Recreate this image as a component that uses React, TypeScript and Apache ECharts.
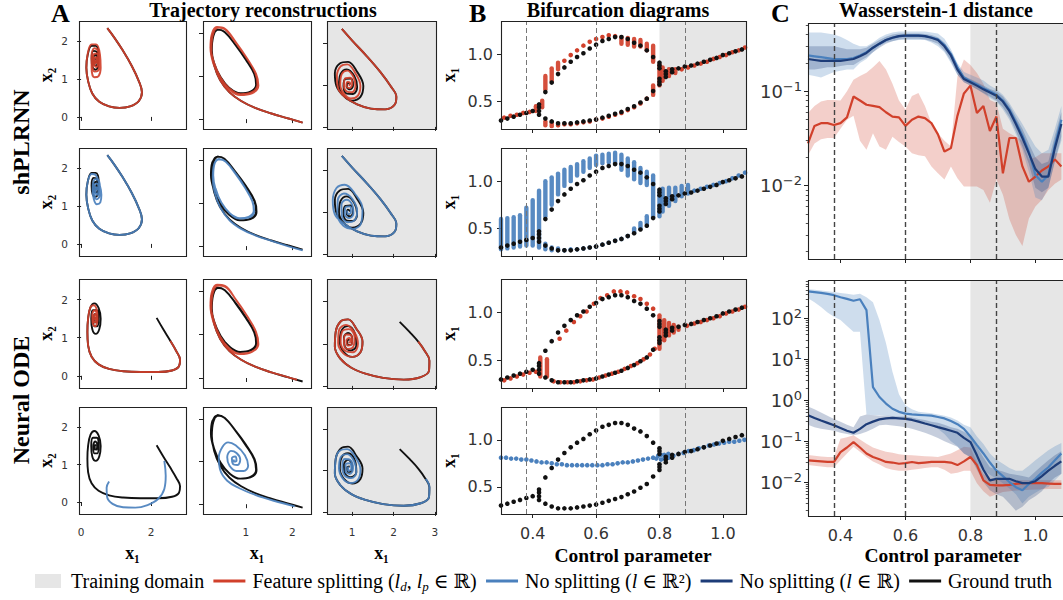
import { useEffect, useRef } from "react";
import * as echarts from "echarts";

// ================= DATA =================
// ---- Panel A: trajectories (x1, x2) ----
// Column 1 (rows 1-2 ground truth)
const gtC1Top = [[0.75,2.35],[0.95,2.1],[1.2,1.75],[1.45,1.35],[1.65,0.95],[1.74,0.65],[1.65,0.42],[1.4,0.28],[1.1,0.24],[0.8,0.28],[0.52,0.4],[0.32,0.62],[0.2,0.95],[0.15,1.3],[0.19,1.65],[0.3,1.88],[0.42,1.88],[0.5,1.7],[0.5,1.4],[0.42,1.25],[0.33,1.32],[0.3,1.55],[0.36,1.75],[0.45,1.72],[0.48,1.52],[0.43,1.36],[0.36,1.4],[0.35,1.58],[0.41,1.64],[0.45,1.52],[0.41,1.43],[0.38,1.5],[0.41,1.55]];
const redC1R1 = [[0.75,2.35],[0.95,2.1],[1.2,1.75],[1.45,1.35],[1.65,0.95],[1.74,0.65],[1.65,0.42],[1.4,0.28],[1.1,0.24],[0.8,0.28],[0.52,0.4],[0.32,0.62],[0.2,0.95],[0.15,1.3],[0.19,1.68],[0.3,1.92],[0.43,1.92],[0.54,1.65],[0.56,1.3],[0.5,1.08],[0.38,1.05],[0.3,1.3],[0.3,1.62],[0.38,1.82],[0.48,1.76],[0.53,1.48],[0.48,1.22],[0.38,1.2],[0.33,1.42],[0.36,1.66],[0.45,1.68],[0.49,1.48],[0.44,1.32],[0.38,1.38],[0.38,1.56],[0.44,1.58],[0.45,1.46],[0.41,1.42],[0.4,1.5]];
const blueC1R2 = [[0.75,2.35],[0.95,2.1],[1.2,1.75],[1.45,1.35],[1.65,0.95],[1.74,0.65],[1.65,0.42],[1.4,0.28],[1.1,0.24],[0.8,0.28],[0.52,0.4],[0.32,0.62],[0.2,0.95],[0.15,1.3],[0.19,1.65],[0.3,1.85],[0.42,1.82],[0.52,1.6],[0.58,1.3],[0.55,1.1],[0.45,1.05],[0.36,1.2],[0.33,1.45],[0.36,1.68],[0.46,1.72],[0.54,1.5],[0.52,1.25],[0.44,1.18],[0.38,1.32],[0.38,1.55],[0.45,1.6],[0.5,1.45],[0.46,1.3],[0.41,1.38],[0.42,1.5],[0.46,1.48],[0.45,1.42]];
// Column 1 (rows 3-4 ground truth)
const gtC1Bot = [[2.16,1.52],[2.35,1.22],[2.55,0.92],[2.72,0.65],[2.83,0.42],[2.8,0.25],[2.6,0.14],[2.2,0.1],[1.7,0.1],[1.2,0.12],[0.8,0.18],[0.5,0.3],[0.3,0.5],[0.2,0.8],[0.18,1.15],[0.2,1.5],[0.27,1.8],[0.38,1.9],[0.5,1.78],[0.56,1.5],[0.52,1.22],[0.42,1.1],[0.32,1.22],[0.29,1.5],[0.34,1.72],[0.45,1.72],[0.5,1.5],[0.46,1.3],[0.38,1.3],[0.35,1.5],[0.4,1.62],[0.46,1.55],[0.44,1.4],[0.39,1.42],[0.39,1.52],[0.43,1.52]];
const redC1R3 = [[2.55,0.92],[2.72,0.65],[2.83,0.42],[2.8,0.25],[2.6,0.14],[2.2,0.1],[1.7,0.1],[1.2,0.12],[0.8,0.18],[0.5,0.3],[0.3,0.5],[0.2,0.8],[0.18,1.15],[0.2,1.5],[0.26,1.78],[0.36,1.85],[0.45,1.72],[0.47,1.48],[0.4,1.3],[0.33,1.38],[0.32,1.6],[0.38,1.72],[0.45,1.62],[0.44,1.45],[0.38,1.4],[0.36,1.55],[0.41,1.62],[0.43,1.52],[0.39,1.48],[0.4,1.55]];
const blueC1R4 = [[0.8,0.55],[0.73,0.38],[0.74,0.15],[0.9,-0.05],[1.2,-0.14],[1.55,-0.15],[1.9,-0.08],[2.2,0.08],[2.38,0.35],[2.42,0.7],[2.38,1.1]];
// Column 2
const gtC2 = [[2.22,-0.08],[1.9,0.02],[1.55,0.13],[1.2,0.26],[0.9,0.42],[0.65,0.62],[0.45,0.9],[0.32,1.25],[0.27,1.6],[0.3,1.92],[0.4,2.08],[0.55,2.02],[0.78,1.72],[1.0,1.38],[1.18,1.05],[1.22,0.8],[1.1,0.64],[0.88,0.6],[0.65,0.72],[0.46,0.97],[0.32,1.3],[0.26,1.65],[0.29,1.95],[0.39,2.08],[0.54,2.03],[0.77,1.74],[1.0,1.4],[1.19,1.05],[1.23,0.8],[1.1,0.63],[0.87,0.6],[0.64,0.73],[0.45,0.98],[0.31,1.32],[0.25,1.66],[0.28,1.95],[0.38,2.07]];
const redC2R1 = [[2.22,-0.08],[1.9,0.02],[1.55,0.13],[1.2,0.26],[0.9,0.42],[0.65,0.62],[0.45,0.9],[0.32,1.25],[0.26,1.6],[0.29,1.95],[0.4,2.13],[0.56,2.08],[0.8,1.75],[1.03,1.4],[1.22,1.05],[1.27,0.78],[1.13,0.6],[0.88,0.56],[0.63,0.7],[0.44,0.96],[0.3,1.3],[0.24,1.66],[0.27,1.98],[0.38,2.14],[0.55,2.1],[0.79,1.78],[1.02,1.42],[1.2,1.08],[1.25,0.8],[1.12,0.62],[0.88,0.58],[0.64,0.72],[0.45,0.98],[0.31,1.33],[0.25,1.68],[0.28,2.0],[0.38,2.12]];
const blueC2R2 = [[2.22,-0.1],[1.9,0.0],[1.55,0.12],[1.2,0.25],[0.9,0.4],[0.65,0.6],[0.45,0.9],[0.33,1.25],[0.29,1.6],[0.32,1.9],[0.42,2.02],[0.56,1.97],[0.78,1.68],[0.98,1.36],[1.14,1.04],[1.17,0.82],[1.06,0.68],[0.87,0.65],[0.66,0.76],[0.48,1.0],[0.35,1.32],[0.3,1.64],[0.33,1.92],[0.43,2.02],[0.57,1.96],[0.8,1.66],[1.0,1.33],[1.15,1.02],[1.18,0.8],[1.06,0.66],[0.86,0.64],[0.65,0.77],[0.47,1.02],[0.35,1.34]];
const redC2R3 = [[2.1,-0.04],[1.9,0.02],[1.55,0.13],[1.2,0.26],[0.9,0.42],[0.65,0.62],[0.45,0.9],[0.32,1.25],[0.26,1.6],[0.29,1.95],[0.4,2.13],[0.56,2.1],[0.8,1.78],[1.03,1.42],[1.22,1.06],[1.27,0.78],[1.13,0.6],[0.88,0.55],[0.62,0.68],[0.43,0.95],[0.3,1.3],[0.24,1.66],[0.27,1.98],[0.38,2.15],[0.55,2.12],[0.79,1.8],[1.02,1.44],[1.21,1.08],[1.26,0.8],[1.12,0.6],[0.87,0.56],[0.63,0.7],[0.44,0.97],[0.31,1.33],[0.25,1.68],[0.28,2.0],[0.38,2.14]];
const blueC2R4 = [[2.05,-0.05],[1.6,0.08],[1.2,0.22],[0.85,0.38],[0.6,0.55],[0.45,0.8],[0.42,1.1],[0.5,1.35],[0.62,1.45],[0.78,1.38],[0.98,1.15],[1.05,0.9],[0.95,0.78],[0.8,0.78],[0.65,0.9],[0.6,1.1],[0.68,1.25],[0.8,1.2],[0.88,1.05],[0.82,0.92],[0.72,0.95],[0.7,1.08],[0.77,1.12],[0.8,1.02],[0.75,1.0],[0.74,1.05]];
// Column 3
const gtC3Top = [[0.75,2.35],[1.0,2.07],[1.35,1.7],[1.68,1.32],[1.93,0.98],[2.07,0.72],[2.02,0.52],[1.8,0.42],[1.45,0.44],[1.12,0.54],[0.82,0.72],[0.62,0.98],[0.58,1.28],[0.7,1.52],[0.9,1.56],[1.12,1.32],[1.27,0.98],[1.2,0.72],[1.0,0.63],[0.79,0.75],[0.68,1.0],[0.72,1.27],[0.87,1.38],[1.05,1.22],[1.12,0.96],[1.02,0.79],[0.87,0.8],[0.79,0.98],[0.84,1.15],[0.96,1.16],[1.02,1.0],[0.95,0.9],[0.87,0.96],[0.9,1.06],[0.96,1.02]];
const redC3R1 = [[0.75,2.35],[1.0,2.07],[1.35,1.7],[1.68,1.32],[1.93,0.98],[2.07,0.72],[2.02,0.52],[1.8,0.42],[1.45,0.44],[1.12,0.54],[0.82,0.72],[0.65,0.95],[0.63,1.22],[0.72,1.45],[0.88,1.5],[1.07,1.3],[1.2,0.98],[1.14,0.75],[0.97,0.68],[0.8,0.8],[0.71,1.02],[0.75,1.27],[0.88,1.35],[1.03,1.2],[1.08,0.98],[0.99,0.83],[0.87,0.85],[0.8,1.0],[0.84,1.17],[0.95,1.18],[1.0,1.03],[0.93,0.93],[0.86,0.98],[0.89,1.08],[0.95,1.05],[0.92,0.99]];
const blueC3R2 = [[0.75,2.35],[1.0,2.07],[1.35,1.7],[1.68,1.32],[1.93,0.98],[2.07,0.72],[2.02,0.52],[1.8,0.42],[1.45,0.44],[1.12,0.54],[0.82,0.72],[0.58,0.95],[0.53,1.28],[0.62,1.58],[0.82,1.66],[1.06,1.45],[1.25,1.08],[1.22,0.75],[1.02,0.6],[0.78,0.68],[0.64,0.95],[0.65,1.28],[0.8,1.45],[1.0,1.32],[1.12,1.02],[1.05,0.8],[0.88,0.76],[0.75,0.92],[0.74,1.18],[0.86,1.3],[1.0,1.18],[1.03,0.97],[0.93,0.86],[0.82,0.95],[0.84,1.12],[0.94,1.14],[0.97,1.0],[0.9,0.95],[0.88,1.04]];
const gtC3Bot = [[2.15,1.52],[2.4,1.27],[2.6,1.05],[2.75,0.84],[2.87,0.6],[2.86,0.36],[2.66,0.21],[2.25,0.15],[1.75,0.19],[1.32,0.29],[0.98,0.43],[0.72,0.64],[0.58,0.93],[0.6,1.28],[0.72,1.53],[0.9,1.58],[1.1,1.36],[1.25,1.05],[1.2,0.8],[1.0,0.69],[0.8,0.8],[0.7,1.05],[0.75,1.33],[0.9,1.42],[1.07,1.23],[1.1,0.96],[0.96,0.84],[0.82,0.94],[0.8,1.15],[0.9,1.26],[1.0,1.13],[0.98,0.98],[0.89,0.97],[0.88,1.08],[0.94,1.1]];
const redC3R3 = [[2.6,1.05],[2.75,0.84],[2.87,0.6],[2.86,0.36],[2.66,0.21],[2.25,0.15],[1.75,0.19],[1.32,0.29],[0.98,0.43],[0.72,0.64],[0.58,0.93],[0.6,1.28],[0.72,1.53],[0.9,1.58],[1.1,1.36],[1.25,1.05],[1.2,0.8],[1.0,0.69],[0.78,0.78],[0.66,1.02],[0.68,1.32],[0.85,1.45],[1.05,1.28],[1.14,1.0],[1.02,0.8],[0.82,0.84],[0.72,1.05],[0.76,1.3],[0.92,1.35],[1.06,1.15],[1.02,0.92],[0.87,0.88],[0.8,1.05],[0.85,1.22],[0.98,1.2],[1.0,1.02],[0.9,0.96],[0.86,1.08],[0.93,1.14],[0.96,1.05],[0.91,1.03]];
const blueC3R4 = [[2.78,0.8],[2.87,0.6],[2.86,0.36],[2.66,0.21],[2.25,0.15],[1.75,0.19],[1.32,0.29],[0.98,0.43],[0.72,0.64],[0.58,0.93],[0.6,1.28],[0.7,1.48],[0.88,1.52],[1.08,1.32],[1.2,1.02],[1.14,0.78],[0.96,0.7],[0.78,0.8],[0.68,1.05],[0.72,1.32],[0.88,1.4],[1.05,1.22],[1.1,0.96],[0.98,0.82],[0.82,0.88],[0.76,1.08],[0.82,1.28],[0.96,1.25],[1.02,1.05],[0.94,0.92],[0.84,0.98],[0.84,1.15],[0.94,1.18],[0.98,1.04],[0.9,0.99],[0.9,1.1]];

// ---- Panel B: bifurcation diagrams (control parameter, x1) ----
const bifGT = [[0.30,0.30],[0.32,0.32],[0.34,0.34],[0.36,0.36],[0.38,0.38],[0.40,0.40],[0.42,0.36],[0.42,0.40],[0.42,0.44],[0.42,0.47],[0.44,0.60],[0.44,0.32],[0.46,0.70],[0.46,0.29],[0.48,0.79],[0.48,0.27],[0.50,0.86],[0.50,0.27],[0.52,0.92],[0.52,0.27],[0.54,0.97],[0.54,0.28],[0.56,1.01],[0.56,0.29],[0.58,1.06],[0.58,0.30],[0.60,1.10],[0.60,0.31],[0.62,1.14],[0.62,0.33],[0.64,1.16],[0.64,0.35],[0.66,1.18],[0.66,0.37],[0.68,1.18],[0.68,0.39],[0.70,1.16],[0.70,0.42],[0.72,1.12],[0.72,0.45],[0.74,1.09],[0.74,0.49],[0.76,1.04],[0.76,0.53],[0.78,0.97],[0.78,0.61],[0.80,0.91],[0.80,0.88],[0.80,0.85],[0.80,0.74],[0.80,0.71],[0.80,0.68],[0.82,0.82],[0.82,0.79],[0.82,0.76],[0.84,0.84],[0.84,0.81],[0.86,0.85],[0.88,0.87],[0.90,0.88],[0.92,0.90],[0.94,0.92],[0.96,0.94],[0.98,0.96],[1.00,0.99],[1.02,1.01],[1.04,1.03],[1.06,1.05]];
// shPLRNN, feature splitting: single points and vertical streaks [x, low, high]
const bifRed1Pts = [[0.31,0.33],[0.33,0.35],[0.35,0.36],[0.37,0.38],[0.39,0.39],[0.50,0.93],[0.52,0.99],[0.54,1.04],[0.56,1.09],[0.58,1.13],[0.60,1.16],[0.62,1.18],[0.64,1.2],[0.66,1.19],[0.48,0.25],[0.50,0.26],[0.52,0.26],[0.54,0.27],[0.56,0.28],[0.58,0.29],[0.60,0.31],[0.62,0.32],[0.64,0.34],[0.66,0.36],[0.68,0.38],[0.70,0.41],[0.72,0.44],[0.74,0.48],[0.76,0.53],[0.87,0.84],[0.89,0.86],[0.91,0.88],[0.93,0.9],[0.95,0.92],[0.97,0.95],[0.99,0.97],[1.01,0.99],[1.03,1.02],[1.05,1.04],[1.07,1.07]];
const bifRed1Streaks = [[0.41,0.40,0.45],[0.43,0.44,0.51],[0.44,0.63,0.77],[0.46,0.72,0.85],[0.48,0.84,0.91],[0.68,1.11,1.18],[0.70,1.1,1.17],[0.72,1.08,1.16],[0.74,1.08,1.15],[0.76,1.04,1.11],[0.78,0.92,1.09],[0.78,0.57,0.67],[0.80,0.67,0.89],[0.81,0.72,0.86],[0.83,0.77,0.84],[0.85,0.8,0.84],[0.44,0.25,0.29],[0.46,0.24,0.28]];
// shPLRNN, no splitting (l in R^2)
const bifBlue2Pts = [[0.50,0.27],[0.52,0.28],[0.54,0.28],[0.56,0.29],[0.58,0.3],[0.60,0.31],[0.62,0.33],[0.64,0.35],[0.66,0.37],[0.68,0.39],[0.70,0.42],[0.91,0.9],[0.93,0.92],[0.95,0.94],[0.97,0.96],[0.99,0.98],[1.01,1.0],[1.03,1.03],[1.05,1.06],[1.07,1.09]];
const bifBlue2Streaks = [[0.30,0.28,0.60],[0.32,0.29,0.61],[0.34,0.30,0.62],[0.36,0.31,0.64],[0.38,0.32,0.72],[0.40,0.32,0.80],[0.42,0.30,0.90],[0.44,0.63,1.0],[0.44,0.28,0.34],[0.46,0.75,1.04],[0.46,0.27,0.30],[0.48,0.86,1.08],[0.48,0.27,0.29],[0.50,0.95,1.12],[0.52,1.0,1.15],[0.54,1.06,1.18],[0.56,1.1,1.21],[0.58,1.14,1.24],[0.60,1.17,1.27],[0.62,1.19,1.28],[0.64,1.2,1.29],[0.66,1.18,1.3],[0.68,1.12,1.28],[0.70,1.06,1.24],[0.72,1.02,1.2],[0.74,0.98,1.14],[0.76,0.96,1.1],[0.78,0.62,1.06],[0.76,0.55,0.63],[0.74,0.5,0.56],[0.72,0.46,0.5],[0.80,0.63,0.9],[0.81,0.68,0.92],[0.83,0.74,0.93],[0.85,0.79,0.93],[0.87,0.84,0.95],[0.89,0.87,0.96]];
// Neural ODE, feature splitting
const bifRed3Pts = [[0.31,0.29],[0.33,0.31],[0.35,0.33],[0.37,0.35],[0.39,0.37],[0.41,0.38],[0.466,0.28],[0.487,0.27],[0.51,0.27],[0.53,0.27],[0.55,0.28],[0.57,0.29],[0.59,0.30],[0.61,0.32],[0.63,0.34],[0.65,0.36],[0.67,0.38],[0.69,0.41],[0.71,0.44],[0.73,0.47],[0.75,0.51],[0.77,0.56],[0.785,0.62],[0.485,0.725],[0.506,0.81],[0.53,0.9],[0.55,0.96],[0.57,1.01],[0.593,1.09],[0.614,1.15],[0.635,1.18],[0.656,1.22],[0.677,1.22],[0.698,1.21],[0.72,1.17],[0.74,1.14],[0.76,1.09],[0.78,1.04],[0.887,0.86],[0.91,0.885],[0.93,0.9],[0.95,0.92],[0.97,0.94],[0.99,0.96],[1.01,0.99],[1.03,1.01],[1.05,1.03],[1.07,1.06]];
const bifRed3Streaks = [[0.424,0.33,0.53],[0.445,0.33,0.51],[0.80,0.62,0.97],[0.815,0.71,0.92],[0.83,0.76,0.89],[0.845,0.79,0.87],[0.86,0.82,0.85]];
// Neural ODE, no splitting
const bifBlue4Pts = [[0.300,0.81],[0.316,0.81],[0.332,0.80],[0.348,0.80],[0.364,0.79],[0.380,0.79],[0.396,0.78],[0.412,0.77],[0.428,0.76],[0.444,0.76],[0.460,0.75],[0.476,0.74],[0.492,0.74],[0.508,0.73],[0.524,0.73],[0.540,0.73],[0.556,0.73],[0.572,0.73],[0.588,0.73],[0.604,0.73],[0.620,0.73],[0.636,0.74],[0.652,0.74],[0.668,0.75],[0.684,0.76],[0.700,0.76],[0.716,0.77],[0.732,0.78],[0.748,0.79],[0.764,0.80],[0.780,0.81],[0.790,0.80],[0.796,0.83],[0.805,0.79],[0.805,0.84],[0.815,0.80],[0.815,0.84],[0.828,0.81],[0.828,0.85],[0.844,0.83],[0.860,0.85],[0.876,0.86],[0.892,0.88],[0.908,0.89],[0.924,0.91],[0.940,0.92],[0.956,0.94],[0.972,0.95],[0.988,0.96],[1.004,0.97],[1.020,0.98],[1.036,0.98],[1.052,0.99],[1.068,1.0]];

// ---- Panel C: Wasserstein-1 distance ----
const wX = [0.30,0.32,0.34,0.36,0.38,0.40,0.42,0.44,0.46,0.48,0.50,0.52,0.54,0.56,0.58,0.60,0.62,0.64,0.66,0.68,0.70,0.72,0.74,0.76,0.78,0.80,0.82,0.84,0.86,0.88,0.90,0.92,0.94,0.96,0.98,1.00,1.02,1.04,1.06,1.08];
// shPLRNN
const wTopRed = [0.028,0.043,0.046,0.046,0.044,0.046,0.053,0.088,0.080,0.072,0.070,0.068,0.060,0.054,0.053,0.043,0.050,0.054,0.052,0.046,0.035,0.023,0.025,0.055,0.095,0.115,0.059,0.070,0.038,0.054,0.0135,0.032,0.032,0.016,0.011,0.0125,0.0145,0.016,0.019,0.016];
const wTopRedLo = [0.021,0.028,0.031,0.032,0.032,0.040,0.050,0.055,0.030,0.024,0.036,0.026,0.024,0.033,0.029,0.026,0.022,0.021,0.0205,0.016,0.0135,0.0116,0.016,0.012,0.0098,0.0098,0.0098,0.009,0.0066,0.0116,0.008,0.0044,0.003,0.0023,0.0045,0.006,0.0071,0.009,0.0105,0.0116];
const wTopRedHi = [0.059,0.07,0.078,0.081,0.081,0.08,0.1,0.133,0.145,0.157,0.18,0.21,0.17,0.12,0.08,0.064,0.089,0.096,0.07,0.046,0.036,0.03,0.026,0.144,0.218,0.19,0.156,0.12,0.081,0.075,0.04,0.036,0.033,0.03,0.019,0.02,0.022,0.022,0.022,0.022];
const wTopLight = [0.24,0.235,0.23,0.225,0.22,0.22,0.22,0.225,0.24,0.26,0.29,0.32,0.35,0.37,0.385,0.39,0.39,0.39,0.385,0.372,0.355,0.31,0.25,0.18,0.14,0.128,0.118,0.108,0.1,0.092,0.08,0.064,0.047,0.034,0.023,0.013,0.011,0.013,0.027,0.05];
const wTopLightLo = [0.15,0.145,0.14,0.15,0.16,0.165,0.17,0.17,0.2,0.22,0.26,0.3,0.33,0.34,0.35,0.35,0.35,0.35,0.35,0.33,0.3,0.26,0.2,0.15,0.125,0.115,0.105,0.095,0.085,0.078,0.064,0.05,0.035,0.024,0.014,0.0075,0.007,0.0095,0.018,0.03];
const wTopLightHi = [0.42,0.42,0.42,0.41,0.4,0.38,0.35,0.32,0.3,0.3,0.33,0.37,0.4,0.42,0.43,0.43,0.43,0.43,0.43,0.42,0.41,0.36,0.28,0.2,0.16,0.15,0.14,0.13,0.115,0.105,0.092,0.075,0.058,0.045,0.034,0.026,0.022,0.024,0.04,0.07];
const wTopNavy = [0.22,0.215,0.21,0.21,0.21,0.21,0.215,0.22,0.235,0.255,0.29,0.32,0.35,0.37,0.385,0.39,0.39,0.39,0.385,0.37,0.35,0.3,0.24,0.17,0.135,0.125,0.115,0.105,0.097,0.09,0.078,0.062,0.045,0.032,0.022,0.015,0.0125,0.0125,0.025,0.045];
const wTopNavyLo = [0.17,0.17,0.175,0.18,0.18,0.185,0.19,0.19,0.21,0.23,0.26,0.29,0.32,0.34,0.355,0.36,0.36,0.36,0.355,0.34,0.32,0.27,0.21,0.15,0.125,0.115,0.105,0.096,0.088,0.08,0.068,0.053,0.038,0.026,0.017,0.0095,0.0085,0.0095,0.018,0.033];
const wTopNavyHi = [0.3,0.3,0.3,0.3,0.3,0.29,0.28,0.28,0.28,0.29,0.32,0.35,0.38,0.4,0.41,0.41,0.41,0.41,0.405,0.395,0.375,0.33,0.26,0.19,0.145,0.135,0.125,0.115,0.106,0.1,0.088,0.071,0.053,0.04,0.028,0.02,0.017,0.018,0.034,0.06];
// Neural ODE
const wBotRed = [0.034,0.033,0.032,0.031,0.031,0.054,0.07,0.095,0.07,0.05,0.041,0.036,0.031,0.03,0.028,0.029,0.031,0.029,0.03,0.031,0.031,0.031,0.03,0.026,0.032,0.041,0.026,0.011,0.0085,0.0083,0.0083,0.0085,0.009,0.0094,0.0094,0.0094,0.0094,0.0092,0.009,0.009];
const wBotRedLo = [0.026,0.025,0.024,0.023,0.023,0.034,0.05,0.073,0.055,0.041,0.032,0.027,0.022,0.02,0.019,0.019,0.02,0.021,0.022,0.023,0.023,0.02,0.016,0.017,0.019,0.019,0.0094,0.006,0.0044,0.005,0.0057,0.006,0.0062,0.0063,0.0065,0.0066,0.0067,0.0068,0.0068,0.0068];
const wBotRedHi = [0.046,0.044,0.042,0.041,0.041,0.115,0.125,0.14,0.11,0.086,0.07,0.062,0.055,0.052,0.048,0.046,0.045,0.044,0.043,0.042,0.041,0.045,0.05,0.06,0.073,0.07,0.03,0.016,0.012,0.012,0.011,0.011,0.011,0.011,0.011,0.011,0.011,0.011,0.011,0.011];
const wBotLight = [460,440,420,400,370,330,300,270,295,160,2.1,1.2,0.83,0.62,0.52,0.47,0.45,0.44,0.43,0.42,0.39,0.36,0.31,0.26,0.2,0.13,0.08,0.05,0.03,0.019,0.014,0.01,0.0075,0.0063,0.009,0.012,0.017,0.023,0.034,0.05];
const wBotLightLo = [310,250,190,140,110,91,65,47,47,0.45,0.43,0.43,0.42,0.4,0.39,0.37,0.33,0.3,0.27,0.24,0.2,0.15,0.1,0.075,0.05,0.04,0.028,0.02,0.015,0.012,0.0094,0.007,0.005,0.003,0.0044,0.0055,0.0068,0.0076,0.011,0.016];
const wBotLightHi = [520,500,480,460,440,420,400,380,400,330,250,90,25,5,1.4,0.75,0.6,0.52,0.5,0.48,0.45,0.42,0.38,0.32,0.25,0.22,0.13,0.085,0.05,0.035,0.028,0.022,0.019,0.019,0.025,0.034,0.045,0.06,0.075,0.09];
const wBotNavy = [0.43,0.37,0.32,0.28,0.245,0.21,0.18,0.16,0.2,0.26,0.3,0.34,0.36,0.37,0.36,0.35,0.33,0.3,0.27,0.245,0.22,0.2,0.18,0.16,0.12,0.095,0.045,0.02,0.011,0.012,0.012,0.012,0.0105,0.0094,0.0094,0.0105,0.014,0.019,0.025,0.032];
const wBotNavyLo = [0.25,0.22,0.2,0.19,0.18,0.16,0.15,0.14,0.15,0.17,0.2,0.245,0.25,0.24,0.23,0.22,0.2,0.18,0.16,0.14,0.12,0.1,0.085,0.073,0.05,0.041,0.02,0.01,0.0063,0.005,0.0044,0.003,0.002,0.0025,0.0036,0.0045,0.006,0.0094,0.013,0.016];
const wBotNavyHi = [0.7,0.6,0.5,0.42,0.35,0.3,0.25,0.22,0.4,0.45,0.43,0.42,0.42,0.41,0.4,0.4,0.38,0.35,0.33,0.3,0.28,0.25,0.22,0.2,0.17,0.13,0.073,0.04,0.023,0.02,0.018,0.016,0.015,0.014,0.013,0.018,0.025,0.034,0.045,0.057];

// ---- ticks, markers, legend labels ----
const aXTicks = [[0, 2], [1, 2], [1, 2, 3]];
const aYTicks = [0, 1, 2];
const bcXTicks = [0.4, 0.6, 0.8, 1.0];
const bYTicks = [0.5, 1.0];
const cTopMajor = [0.01, 0.1];
const cTopMinor = [0.002,0.003,0.004,0.005,0.006,0.007,0.008,0.009,0.02,0.03,0.04,0.05,0.06,0.07,0.08,0.09,0.2,0.3,0.4,0.5];
const cBotMajor = [0.01, 0.1, 1, 10, 100];
const cBotMinor = [0.002,0.003,0.004,0.005,0.006,0.007,0.008,0.009,0.02,0.03,0.04,0.05,0.06,0.07,0.08,0.09,0.2,0.3,0.4,0.5,0.6,0.7,0.8,0.9,2,3,4,5,6,7,8,9,20,30,40,50,60,70,80,90,200,300,400,500,600,700,800];
const dashedX = [0.38, 0.6, 0.88];
const trainStart = 0.8;
const legendLabels = [
  [["n", "Training domain"]],
  [["n", "Feature splitting ("], ["i", "l"], ["s", "d"], ["n", ", "], ["i", "l"], ["s", "p"], ["n", " ∈ ℝ)"]],
  [["n", "No splitting ("], ["i", "l"], ["n", " ∈ ℝ²)"]],
  [["n", "No splitting ("], ["i", "l"], ["n", " ∈ ℝ)"]],
  [["n", "Ground truth"]],
];

// ================= STYLE / LAYOUT =================
const SERIF = '"Liberation Serif", "Times New Roman", "DejaVu Serif", serif';
const SANS = '"DejaVu Sans", sans-serif';
const RED = "#d1402b";
const LIGHT = "#4a80bd";
const NAVY = "#1d3c78";
const BLACK = "#111111";
const TRAIN = "#e6e6e6";
const FRAME = "#222222";
const LEG_COLORS = [TRAIN, RED, LIGHT, NAVY, BLACK];

const A_LEFT = [79, 203, 327];
const A_W = [107, 108, 109];
const ROW_TOP = [21, 148, 279, 407];
const ROW_H = [108, 108, 109, 107];
const A_XR = [[-0.06, 3.0], [0.08, 2.4], [0.39, 3.03]];
const A_YR = [[-0.32, 2.54], [-0.23, 2.28], [-0.05, 2.54]];
const B_LEFT = 501, B_W = 245;
const B_XR = [0.3, 1.073], B_YR = [0.21, 1.35];
const C_LEFT = 808, C_W = 258;
const C_TOP = [23, 280], C_H = [236, 236];
const C_XR = [0.3, 1.085];
const C_YR = [[0.00167, 0.53], [0.00148, 870]];

const LEG_FS = 20, LEG_SUB = 13;
const legFont = (k: string) => (k === "n" ? `${LEG_FS}px ${SERIF}` : k === "i" ? `italic ${LEG_FS}px ${SERIF}` : `italic ${LEG_SUB}px ${SERIF}`);

function measure(tokens: string[][]) {
  const ctx = document.createElement("canvas").getContext("2d");
  if (!ctx) return tokens.reduce((s, t) => s + t[1].length * 9, 0);
  let w = 0;
  for (const [k, t] of tokens) { ctx.font = legFont(k); w += ctx.measureText(t).width; }
  return w;
}

const SUP: Record<string, string> = { "-": "−" };
const fmtLog = (v: number) => {
  const e = String(Math.round(Math.log10(v))).split("").map((c) => SUP[c] || c).join("");
  return `{b|10}{s|${e}}`;
};
const logRich = {
  b: { fontSize: 18, fontFamily: SANS, color: "#333", lineHeight: 23, verticalAlign: "middle" },
  s: { fontSize: 13, fontFamily: SANS, color: "#333", lineHeight: 12, verticalAlign: "top" },
};

function valAxis(gi: number, range: number[], ticks: number[], showLabel: boolean, fontSize: number, margin: number, fmt: any, isX: boolean, type = "value", rich: any = undefined) {
  return {
    type,
    gridIndex: gi,
    min: range[0],
    max: range[1],
    position: isX ? "bottom" : "left",
    axisLine: { show: false },
    splitLine: { show: false },
    axisTick: { show: true, length: 4, lineStyle: { color: FRAME, width: 1 }, customValues: ticks },
    axisLabel: { show: showLabel, customValues: ticks, fontSize, margin, color: "#333", fontFamily: SANS, formatter: fmt, rich },
  };
}

function streakSeries(gi: number, data: number[][], color: string) {
  return {
    type: "custom", xAxisIndex: gi, yAxisIndex: gi, silent: true, data, encode: { x: 0, y: [1, 2] },
    renderItem: (_p: any, api: any) => {
      const p1 = api.coord([api.value(0), api.value(1)]);
      const p2 = api.coord([api.value(0), api.value(2)]);
      return { type: "line", shape: { x1: p1[0], y1: p1[1], x2: p2[0], y2: p2[1] }, style: { stroke: color, lineWidth: 4.4, lineCap: "round", opacity: 0.92 } };
    },
  };
}

function bandSeries(gi: number, lo: number[], hi: number[], color: string, opacity: number) {
  return {
    type: "custom", xAxisIndex: gi, yAxisIndex: gi, silent: true,
    data: wX.map((x, i) => [x, lo[i], hi[i]]), encode: { x: 0, y: [1, 2] },
    renderItem: (p: any, api: any) => {
      if (p.dataIndex !== 0) return null;
      const up = wX.map((x, i) => api.coord([x, hi[i]]));
      const dn = wX.map((x, i) => api.coord([x, lo[i]])).reverse();
      return { type: "polygon", shape: { points: up.concat(dn) }, style: { fill: color, opacity } };
    },
  };
}

function lineSeries(gi: number, data: number[][], color: string, width: number, smooth: number | boolean) {
  return {
    type: "line", xAxisIndex: gi, yAxisIndex: gi, data, showSymbol: false, smooth, silent: true,
    lineStyle: { color, width }, itemStyle: { color },
  };
}

function markerSeries(gi: number, xMax: number, dashColor: string, dashWidth: number) {
  return {
    type: "line", xAxisIndex: gi, yAxisIndex: gi, data: [], silent: true,
    markArea: { silent: true, itemStyle: { color: TRAIN }, data: [[{ xAxis: trainStart }, { xAxis: xMax }]] },
    markLine: {
      silent: true, symbol: ["none", "none"], label: { show: false },
      lineStyle: { type: [5, 3], color: dashColor, width: dashWidth },
      data: dashedX.map((x) => ({ xAxis: x })),
    },
  };
}

function buildOption() {
  const grids: any[] = [];
  const xAxes: any[] = [];
  const yAxes: any[] = [];
  const series: any[] = [];
  const frames: any[] = [];
  const fmtInt = (v: number) => String(v);
  const fmt1 = (v: number) => v.toFixed(1);

  const aPanels = [
    [gtC1Top, redC1R1, RED], [gtC2, redC2R1, RED], [gtC3Top, redC3R1, RED],
    [gtC1Top, blueC1R2, LIGHT], [gtC2, blueC2R2, LIGHT], [gtC3Top, blueC3R2, LIGHT],
    [gtC1Bot, redC1R3, RED], [gtC2, redC2R3, RED], [gtC3Bot, redC3R3, RED],
    [gtC1Bot, blueC1R4, LIGHT], [gtC2, blueC2R4, LIGHT], [gtC3Bot, blueC3R4, LIGHT],
  ];
  for (let r = 0; r < 4; r++) {
    for (let c = 0; c < 3; c++) {
      const gi = r * 3 + c;
      grids.push({ left: A_LEFT[c], top: ROW_TOP[r], width: A_W[c], height: ROW_H[r], show: c === 2, backgroundColor: TRAIN, borderWidth: 0 });
      xAxes.push(valAxis(gi, A_XR[c], aXTicks[c], r === 3, 10.5, 12, fmtInt, true));
      yAxes.push(valAxis(gi, A_YR[c], aYTicks, c === 0, 10.5, 11, fmtInt, false));
      const [gt, model, color] = aPanels[gi] as any;
      series.push(lineSeries(gi, gt, BLACK, 1.9, 0.4));
      series.push({ ...lineSeries(gi, model, color, 1.9, 0.4), lineStyle: { color, width: 1.9, opacity: 0.92 } });
      frames.push([A_LEFT[c], ROW_TOP[r], A_W[c], ROW_H[r]]);
    }
  }

  const bModels = [
    [bifRed1Pts, bifRed1Streaks, RED],
    [bifBlue2Pts, bifBlue2Streaks, LIGHT],
    [bifRed3Pts, bifRed3Streaks, RED],
    [bifBlue4Pts, [], LIGHT],
  ];
  for (let r = 0; r < 4; r++) {
    const gi = 12 + r;
    grids.push({ left: B_LEFT, top: ROW_TOP[r], width: B_W, height: ROW_H[r], show: false });
    xAxes.push(valAxis(gi, B_XR, bcXTicks, r === 3, 16, 11, fmt1, true));
    yAxes.push(valAxis(gi, B_YR, bYTicks, true, 16, 8, fmt1, false));
    const [pts, streaks, color] = bModels[r] as any;
    series.push(markerSeries(gi, B_XR[1], "#777", 1));
    if (streaks.length) series.push(streakSeries(gi, streaks, color));
    series.push({ type: "scatter", xAxisIndex: gi, yAxisIndex: gi, data: pts, symbolSize: 4.6, silent: true, itemStyle: { color, opacity: 1 } });
    series.push({ type: "scatter", xAxisIndex: gi, yAxisIndex: gi, data: bifGT, symbolSize: 4.6, silent: true, itemStyle: { color: BLACK, opacity: 1 } });
    frames.push([B_LEFT, ROW_TOP[r], B_W, ROW_H[r]]);
  }

  const cData = [
    { red: wTopRed, redLo: wTopRedLo, redHi: wTopRedHi, light: wTopLight, lightLo: wTopLightLo, lightHi: wTopLightHi, navy: wTopNavy, navyLo: wTopNavyLo, navyHi: wTopNavyHi, major: cTopMajor, minor: cTopMinor },
    { red: wBotRed, redLo: wBotRedLo, redHi: wBotRedHi, light: wBotLight, lightLo: wBotLightLo, lightHi: wBotLightHi, navy: wBotNavy, navyLo: wBotNavyLo, navyHi: wBotNavyHi, major: cBotMajor, minor: cBotMinor },
  ];
  for (let k = 0; k < 2; k++) {
    const gi = 16 + k;
    grids.push({ left: C_LEFT, top: C_TOP[k], width: C_W, height: C_H[k], show: false });
    xAxes.push(valAxis(gi, C_XR, bcXTicks, k === 1, 16, 11, fmt1, true));
    yAxes.push(valAxis(gi, C_YR[k], cData[k].major, true, 18, 6, fmtLog, false, "log", logRich));
    frames.push([C_LEFT, C_TOP[k], C_W, C_H[k]]);
  }
  for (let k = 0; k < 2; k++) {
    yAxes.push({
      type: "log", gridIndex: 16 + k, min: C_YR[k][0], max: C_YR[k][1], position: "left",
      axisLine: { show: false }, splitLine: { show: false }, axisLabel: { show: false },
      axisTick: { show: true, length: 2.2, lineStyle: { color: FRAME, width: 0.8 }, customValues: cData[k].minor },
    });
  }
  for (let k = 0; k < 2; k++) {
    const gi = 16 + k;
    const d = cData[k];
    series.push(markerSeries(gi, C_XR[1], "#444", 1.4));
    series.push(bandSeries(gi, d.redLo, d.redHi, RED, 0.25));
    series.push(lineSeries(gi, wX.map((x, i) => [x, d.red[i]]), RED, 2.2, false));
    series.push(bandSeries(gi, d.lightLo, d.lightHi, LIGHT, 0.27));
    series.push(lineSeries(gi, wX.map((x, i) => [x, d.light[i]]), LIGHT, 2.2, false));
    series.push(bandSeries(gi, d.navyLo, d.navyHi, NAVY, 0.25));
    series.push(lineSeries(gi, wX.map((x, i) => [x, d.navy[i]]), NAVY, 2.2, false));
  }

  const txt = (x: number, y: number, text: string, size: number, opts: any = {}) => ({
    type: "text", x, y, z: 100, silent: true, rotation: opts.rotation || 0,
    style: {
      text, fontSize: size, fontFamily: opts.family || SERIF, fontWeight: opts.weight || "bold",
      fill: "#000", align: opts.align || "center", verticalAlign: "middle", rich: opts.rich,
    },
  });

  const elements: any[] = [];
  frames.forEach(([x, y, w, h]) =>
    elements.push({ type: "rect", z: 90, silent: true, shape: { x: x + 0.5, y: y + 0.5, width: w, height: h }, style: { fill: "none", stroke: FRAME, lineWidth: 1.1 } })
  );
  elements.push(txt(51, 13, "A", 26, { align: "left" }));
  elements.push(txt(263, 10, "Trajectory reconstructions", 20));
  elements.push(txt(469, 13, "B", 26, { align: "left" }));
  elements.push(txt(618, 10, "Bifurcation diagrams", 20));
  elements.push(txt(771, 13, "C", 26, { align: "left" }));
  elements.push(txt(936, 10, "Wasserstein-1 distance", 20));
  elements.push(txt(21, 142, "shPLRNN", 24, { rotation: Math.PI / 2 }));
  elements.push(txt(21, 400, "Neural ODE", 24, { rotation: Math.PI / 2 }));
  for (let r = 0; r < 4; r++) {
    const cy = ROW_TOP[r] + ROW_H[r] / 2;
    elements.push(txt(46, cy, "x₂", 18, { rotation: Math.PI / 2 }));
    elements.push(txt(449, cy, "x₁", 18, { rotation: Math.PI / 2 }));
  }
  for (let c = 0; c < 3; c++) elements.push(txt(A_LEFT[c] + A_W[c] / 2, 553, "x₁", 18));
  elements.push(txt(633, 555, "Control parameter", 19.5));
  elements.push(txt(943, 555, "Control parameter", 19.5));

  // legend: sequential layout from measured text widths
  const LY = 581;
  const rich = {
    n: { fontSize: LEG_FS, fontFamily: SERIF, lineHeight: 24, verticalAlign: "middle" },
    i: { fontSize: LEG_FS, fontFamily: SERIF, fontStyle: "italic", lineHeight: 24, verticalAlign: "middle" },
    s: { fontSize: LEG_SUB, fontFamily: SERIF, fontStyle: "italic", lineHeight: 14, verticalAlign: "bottom" },
  };
  const widths = legendLabels.map((t) => measure(t));
  const ICON_W = [26, 32, 32, 32, 32];
  const ICON_GAP = [10, 7, 7, 7, 7];
  const startX = 35, endX = 1052;
  const fixed = ICON_W.reduce((a, b) => a + b, 0) + ICON_GAP.reduce((a, b) => a + b, 0) + widths.reduce((a, b) => a + b, 0);
  const gap = Math.max(6, (endX - startX - fixed) / (legendLabels.length - 1));
  let cx = startX;
  legendLabels.forEach((tokens, i) => {
    if (i === 0) elements.push({ type: "rect", z: 100, silent: true, shape: { x: cx, y: LY - 7, width: ICON_W[i], height: 14 }, style: { fill: LEG_COLORS[i] } });
    else elements.push({ type: "line", z: 100, silent: true, shape: { x1: cx, y1: LY, x2: cx + ICON_W[i], y2: LY }, style: { stroke: LEG_COLORS[i], lineWidth: 3 } });
    cx += ICON_W[i] + ICON_GAP[i];
    const text = tokens.map(([k, t]) => `{${k}|${t}}`).join("");
    elements.push(txt(cx, LY, text, LEG_FS, { align: "left", weight: "normal", rich }));
    cx += widths[i] + gap;
  });

  return {
    animation: false,
    backgroundColor: "#ffffff",
    grid: grids,
    xAxis: xAxes,
    yAxis: yAxes,
    series,
    graphic: { elements },
  };
}

export default function App() {
  const ref = useRef<HTMLDivElement>(null);
  useEffect(() => {
    if (!ref.current) return;
    const chart = echarts.init(ref.current, undefined, { renderer: "svg" });
    chart.setOption(buildOption() as any);
    return () => chart.dispose();
  }, []);
  return (
    <div style={{ position: "fixed", left: 0, top: 0, width: 1063, height: 600, overflow: "hidden", background: "#fff" }}>
      <div ref={ref} style={{ width: 1063, height: 600 }} />
    </div>
  );
}
